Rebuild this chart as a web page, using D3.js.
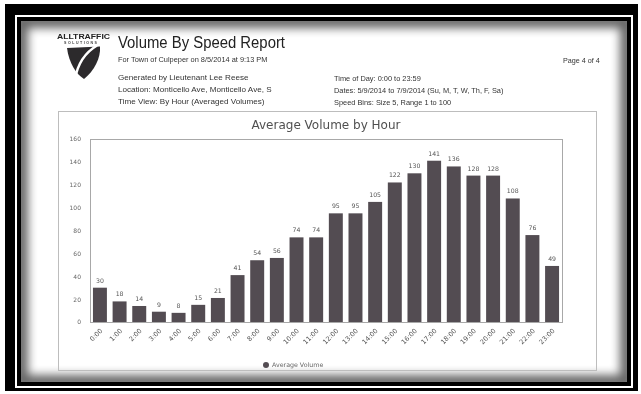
<!DOCTYPE html>
<html>
<head>
<meta charset="utf-8">
<script src="https://cdn.jsdelivr.net/npm/d3@7/dist/d3.min.js"></script>
<style>
  html, body { margin: 0; padding: 0; background: #fff; }
  svg { display: block; }
</style>
</head>
<body>
<svg id="chart" width="641" height="394"></svg>
<script>
// Hourly averaged volumes
const hours = ["0:00","1:00","2:00","3:00","4:00","5:00","6:00","7:00","8:00","9:00","10:00","11:00",
               "12:00","13:00","14:00","15:00","16:00","17:00","18:00","19:00","20:00","21:00","22:00","23:00"];
const avgVolume = [30,18,14,9,8,15,21,41,54,56,74,74,95,95,105,122,130,141,136,128,128,108,76,49];
const yTicks = [0,20,40,60,80,100,120,140,160];

const headerLeft = [
  "Generated by Lieutenant Lee Reese",
  "Location: Monticello Ave, Monticello Ave, S",
  "Time View: By Hour (Averaged Volumes)"
];
const headerRight = [
  "Time of Day: 0:00 to 23:59",
  "Dates: 5/9/2014 to 7/9/2014 (Su, M, T, W, Th, F, Sa)",
  "Speed Bins: Size 5, Range 1 to 100"
];

const svg = d3.select("#chart");
const defs = svg.append("defs");

// flat filter: renders the content through an offscreen layer (grayscale text AA)
const flat = defs.append("filter").attr("id", "flat")
  .attr("filterUnits", "userSpaceOnUse")
  .attr("x", 0).attr("y", 0).attr("width", 641).attr("height", 394);
flat.append("feOffset").attr("dx", 0).attr("dy", 0);

const root = svg.append("g").attr("filter", "url(#flat)");

// ---- double black frame and page ----
root.append("rect").attr("x", 0).attr("y", 0).attr("width", 641).attr("height", 394).attr("fill", "#fff");
root.append("rect").attr("x", 5).attr("y", 4).attr("width", 633).attr("height", 387).attr("fill", "#000");
root.append("rect").attr("x", 15).attr("y", 15).attr("width", 618).attr("height", 373).attr("fill", "#fff");
root.append("rect").attr("x", 17).attr("y", 17).attr("width", 614).attr("height", 369).attr("fill", "#000");

const page = {x: 21, y: 21, w: 606, h: 361};
defs.append("clipPath").attr("id", "pageClip")
  .append("rect").attr("x", page.x).attr("y", page.y).attr("width", page.w).attr("height", page.h);
defs.append("filter").attr("id", "soft")
  .attr("x", "-10%").attr("y", "-10%").attr("width", "120%").attr("height", "120%")
  .append("feGaussianBlur").attr("stdDeviation", 5);

root.append("rect").attr("x", page.x).attr("y", page.y).attr("width", page.w).attr("height", page.h).attr("fill", "#fff");
root.append("g").attr("clip-path", "url(#pageClip)")
  .append("rect")
  .attr("x", page.x).attr("y", page.y).attr("width", page.w).attr("height", page.h)
  .attr("fill", "none").attr("stroke", "#000").attr("stroke-width", 14)
  .attr("opacity", 0.6).attr("filter", "url(#soft)");

// ---- logo ----
const logo = root.append("g");
logo.append("text").attr("x", 57).attr("y", 38.5)
  .attr("font-family", "Liberation Sans, Arial, sans-serif").attr("font-weight", "bold")
  .attr("font-size", 8).attr("textLength", 53).attr("lengthAdjust", "spacingAndGlyphs")
  .attr("fill", "#222").text("ALLTRAFFIC");
logo.append("text").attr("x", 64).attr("y", 43.5)
  .attr("font-family", "Liberation Sans, Arial, sans-serif").attr("font-weight", "bold")
  .attr("font-size", 3.6).attr("textLength", 33).attr("lengthAdjust", "spacing")
  .attr("fill", "#444").text("SOLUTIONS");
logo.append("path")
  .attr("d", "M67,48 L100,46.5 C101,58 94,71 84,79 C76,74 69,63 67,48 Z")
  .attr("fill", "#2c2a2c");
logo.append("path")
  .attr("d", "M97,45.5 C86,52 78,62 75,79")
  .attr("fill", "none").attr("stroke", "#fff").attr("stroke-width", 2.5);

// ---- report header ----
const hdrFont = "Liberation Sans, Arial, sans-serif";
root.append("text").attr("x", 118).attr("y", 47.5)
  .attr("font-family", hdrFont).attr("font-size", 16).attr("textLength", 167)
  .attr("lengthAdjust", "spacingAndGlyphs").attr("fill", "#222")
  .text("Volume By Speed Report");
root.append("text").attr("x", 118).attr("y", 61.5)
  .attr("font-family", hdrFont).attr("font-size", 7.4).attr("fill", "#333")
  .text("For Town of Culpeper on 8/5/2014 at 9:13 PM");
root.append("text").attr("x", 563).attr("y", 62.5)
  .attr("font-family", hdrFont).attr("font-size", 7.2).attr("fill", "#333")
  .text("Page 4 of 4");

root.selectAll("text.hl").data(headerLeft).join("text").attr("class", "hl")
  .attr("x", 118).attr("y", (d, i) => 80 + i * 12)
  .attr("font-family", hdrFont).attr("font-size", 8.1).attr("fill", "#333")
  .text(d => d);
root.selectAll("text.hr").data(headerRight).join("text").attr("class", "hr")
  .attr("x", 334).attr("y", (d, i) => 80.5 + i * 12)
  .attr("font-family", hdrFont).attr("font-size", 7.4).attr("fill", "#333")
  .text(d => d);

// ---- chart box ----
root.append("rect").attr("x", 58.5).attr("y", 111.5).attr("width", 538).attr("height", 259)
  .attr("fill", "none").attr("stroke", "#bdbdbd").attr("stroke-width", 1);

const chartFont = "DejaVu Sans, Verdana, sans-serif";
root.append("text").attr("x", 326).attr("y", 129)
  .attr("text-anchor", "middle").attr("font-family", chartFont)
  .attr("font-size", 12).attr("fill", "#505050")
  .text("Average Volume by Hour");

const plot = {left: 90, right: 562, top: 139, bottom: 322};

const x = d3.scaleBand().domain(hours)
  .range([plot.left, plot.right]).paddingInner(0.29).paddingOuter(0.15);
const y = d3.scaleLinear().domain([0, 160]).range([plot.bottom, plot.top]);

// plot frame
root.append("rect").attr("x", plot.left + 0.5).attr("y", plot.top + 0.5)
  .attr("width", plot.right - plot.left).attr("height", plot.bottom - plot.top)
  .attr("fill", "none").attr("stroke", "#a8a8a8").attr("stroke-width", 1);

// y axis labels
const yAxis = root.append("g").attr("transform", `translate(${plot.left - 9},0)`)
  .call(d3.axisLeft(y).tickValues(yTicks).tickSize(0).tickPadding(0).tickFormat(d3.format("d")));
yAxis.select(".domain").remove();
yAxis.selectAll("text").attr("font-family", chartFont).attr("font-size", 6).attr("fill", "#666");

// bars
const barColor = "#534c52";
root.append("g").selectAll("rect").data(avgVolume).join("rect")
  .attr("x", (d, i) => x(hours[i]))
  .attr("y", d => y(d))
  .attr("width", x.bandwidth())
  .attr("height", d => y(0) - y(d))
  .attr("fill", barColor);

// value labels
root.append("g").selectAll("text").data(avgVolume).join("text")
  .attr("x", (d, i) => x(hours[i]) + x.bandwidth() / 2)
  .attr("y", d => y(d) - 5)
  .attr("text-anchor", "middle")
  .attr("font-family", chartFont).attr("font-size", 6.2).attr("fill", "#555")
  .text(d => d);

// x axis labels
const xAxis = root.append("g").attr("transform", `translate(0,${plot.bottom + 9})`)
  .call(d3.axisBottom(x).tickSize(0).tickPadding(0));
xAxis.select(".domain").remove();
xAxis.selectAll("text")
  .attr("x", 2).attr("y", 0).attr("dy", "0.35em")
  .attr("text-anchor", "end")
  .attr("transform", "rotate(-45)")
  .attr("font-family", chartFont).attr("font-size", 6.6).attr("fill", "#555");

// legend
const legend = root.append("g").attr("transform", "translate(266,365)");
legend.append("circle").attr("r", 3).attr("fill", barColor);
legend.append("text").attr("x", 6).attr("y", 2.2)
  .attr("font-family", chartFont).attr("font-size", 6.3).attr("fill", "#666")
  .text("Average Volume");
</script>
</body>
</html>
